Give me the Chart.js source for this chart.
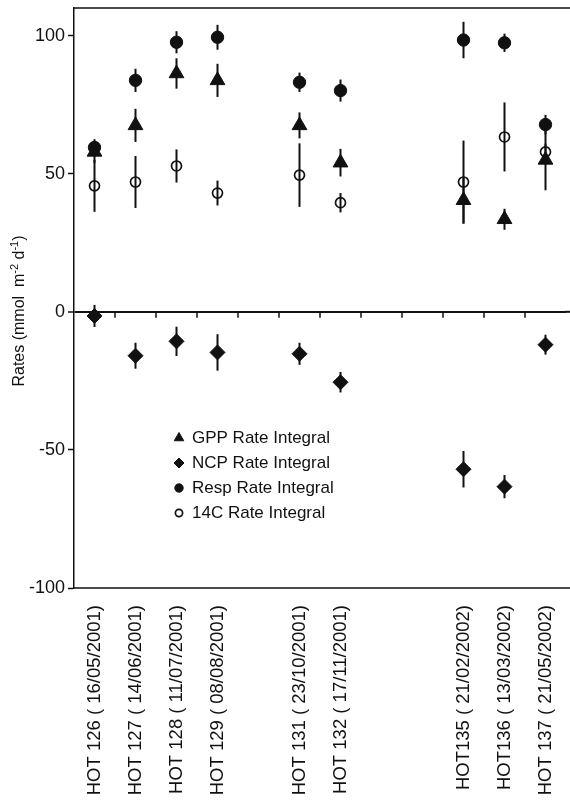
<!DOCTYPE html>
<html>
<head>
<meta charset="utf-8">
<script src="https://cdn.jsdelivr.net/npm/chart.js@4/dist/chart.umd.min.js"></script>
<style>
html,body{margin:0;padding:0;background:#fff;}
canvas{display:block;}
</style>
</head>
<body>
<canvas id="c" width="570" height="804"></canvas>
<script>
// ---- data ----
const categories = ['HOT 126 ( 16/05/2001)', 'HOT 127 ( 14/06/2001)', 'HOT 128 ( 11/07/2001)', 'HOT 129 ( 08/08/2001)', '',
  'HOT 131 ( 23/10/2001)', 'HOT 132 ( 17/11/2001)', '', '',
  'HOT135 ( 21/02/2002)', 'HOT136 ( 13/03/2002)', 'HOT 137 ( 21/05/2002)'];
const gpp     = [57.9, 67.5, 86.3, 83.8, null, 67.5, 54.0, null, null, 40.4, 33.5, 55.0];
const gppErr  = [4.0, 6.0, 5.5, 6.0, null, 4.7, 5.0, null, null, 8.5, 3.8, 11.0];
const ncp     = [-1.5, -15.9, -10.7, -14.7, null, -15.2, -25.5, null, null, -57.0, -63.3, -11.9];
const ncpErr  = [4.0, 4.7, 5.3, 6.6, null, 4.0, 3.7, null, null, 6.6, 4.2, 3.6];
const resp    = [59.5, 83.8, 97.6, 99.4, null, 83.1, 80.1, null, null, 98.4, 97.4, 67.8];
const respErr = [3.0, 4.2, 4.0, 4.5, null, 3.5, 4.0, null, null, 6.6, 3.3, 3.5];
const c14     = [45.6, 47.0, 52.8, 43.0, null, 49.5, 39.5, null, null, 47.0, 63.3, 57.9];
const c14Err  = [9.4, 9.4, 6.0, 4.5, null, 11.5, 3.5, null, null, 15.0, 12.5, 3.0];
const yTicks  = [-100, -50, 0, 50, 100];
const yMin = -100, yMax = 110;
const seriesNames = ['GPP Rate Integral', 'NCP Rate Integral', 'Resp Rate Integral', '14C Rate Integral'];

const FONT = '"Liberation Sans", Arial, Helvetica, sans-serif';
const INK = '#111';

// error bars drawn through the library's scales
const errorBars = {
  id: 'errorBars',
  beforeDatasetsDraw(chart) {
    const {ctx, scales: {x, y}} = chart;
    ctx.save();
    ctx.strokeStyle = INK;
    ctx.lineWidth = 2;
    chart.data.datasets.forEach((ds) => {
      if (!ds.errors) return;
      ds.data.forEach((v, i) => {
        const e = ds.errors[i];
        if (v == null || e == null) return;
        const px = x.getPixelForValue(i);
        ctx.beginPath();
        ctx.moveTo(px, y.getPixelForValue(v - e));
        ctx.lineTo(px, y.getPixelForValue(v + e));
        ctx.stroke();
      });
    });
    ctx.restore();
  }
};

// frame: top line, bottom line, zero-line ticks, y title, legend
const frame = {
  id: 'frame',
  afterDraw(chart) {
    const {ctx, chartArea: a, scales: {x, y}} = chart;
    const W = chart.width;
    ctx.save();
    ctx.strokeStyle = INK;
    ctx.lineWidth = 1.5;
    ctx.beginPath();
    ctx.moveTo(a.left - 0.75, a.top); ctx.lineTo(W, a.top);
    ctx.moveTo(a.left - 0.75, a.bottom); ctx.lineTo(W, a.bottom);
    ctx.stroke();
    // ticks on zero line between categories
    const y0 = y.getPixelForValue(0);
    ctx.lineWidth = 1.5;
    ctx.beginPath();
    for (let i = 0; i < categories.length - 1; i++) {
      const bx = (x.getPixelForValue(i) + x.getPixelForValue(i + 1)) / 2;
      ctx.moveTo(bx, y0); ctx.lineTo(bx, y0 + 6);
    }
    ctx.stroke();
    // zero line extend to right edge
    ctx.lineWidth = 2;
    ctx.beginPath();
    ctx.moveTo(a.right - 1, y0); ctx.lineTo(W, y0);
    ctx.stroke();

    // y axis title with superscripts
    ctx.fillStyle = INK;
    ctx.translate(24, 311);
    ctx.rotate(-Math.PI / 2);
    const parts = [
      ['Rates (mmol  m', 16, 0], ['-2', 11, -6], [' d', 16, 0], ['-1', 11, -6], [')', 16, 0]
    ];
    let total = 0;
    parts.forEach(p => { ctx.font = p[1] + 'px ' + FONT; total += ctx.measureText(p[0]).width; });
    let cx = -total / 2;
    ctx.textBaseline = 'alphabetic';
    ctx.textAlign = 'left';
    parts.forEach(p => {
      ctx.font = p[1] + 'px ' + FONT;
      ctx.fillText(p[0], cx, p[2]);
      cx += ctx.measureText(p[0]).width;
    });
    ctx.restore();

    // legend
    ctx.save();
    const lx = 179, ly0 = 438, dy = 25;
    const lrad = [5.5, 5, 4.2, 3.6];
    chart.data.datasets.forEach((ds, k) => {
      const ly = ly0 + k * dy;
      const opts = {
        pointStyle: ds.pointStyle, radius: lrad[k], rotation: 0,
        borderWidth: ds.pointBorderWidth
      };
      ctx.fillStyle = ds.pointBackgroundColor;
      ctx.strokeStyle = ds.pointBorderColor;
      ctx.lineWidth = ds.pointBorderWidth;
      Chart.helpers.drawPoint(ctx, opts, lx, ly);
      ctx.fillStyle = INK;
      ctx.font = '17px ' + FONT;
      ctx.textBaseline = 'middle';
      ctx.textAlign = 'left';
      ctx.fillText(ds.label, 192, ly + 0.5);
    });
    ctx.restore();
  }
};

const common = {showLine: false, pointHoverRadius: 0};

new Chart(document.getElementById('c'), {
  type: 'line',
  data: {
    labels: categories,
    datasets: [
      Object.assign({label: seriesNames[0], data: gpp, errors: gppErr, pointStyle: 'triangle', pointRadius: 8.5,
        pointBackgroundColor: INK, pointBorderColor: INK, pointBorderWidth: 1}, common),
      Object.assign({label: seriesNames[1], data: ncp, errors: ncpErr, pointStyle: 'rectRot', pointRadius: 7.5,
        pointBackgroundColor: INK, pointBorderColor: INK, pointBorderWidth: 1}, common),
      Object.assign({label: seriesNames[2], data: resp, errors: respErr, pointStyle: 'circle', pointRadius: 6.2,
        pointBackgroundColor: INK, pointBorderColor: INK, pointBorderWidth: 1}, common),
      Object.assign({label: seriesNames[3], data: c14, errors: c14Err, pointStyle: 'circle', pointRadius: 5,
        pointBackgroundColor: 'rgba(0,0,0,0)', pointBorderColor: INK, pointBorderWidth: 1.7}, common)
    ]
  },
  options: {
    responsive: false,
    animation: false,
    events: [],
    layout: {autoPadding: false, padding: {top: 8, right: 4, left: 0, bottom: 0}},
    plugins: {legend: {display: false}, tooltip: {enabled: false}, title: {display: false}},
    scales: {
      x: {
        type: 'category',
        offset: true,
        grid: {display: false, drawTicks: false, offset: true},
        border: {display: false},
        ticks: {
          autoSkip: false, minRotation: 90, maxRotation: 90, padding: 17,
          color: INK, font: {family: FONT, size: 18.5}
        },
        afterFit(s) { s.height = 216; s.paddingLeft = 0; s.paddingRight = 0; }
      },
      y: {
        min: yMin, max: yMax,
        afterBuildTicks(s) { s.ticks = yTicks.map(v => ({value: v})); },
        grid: {
          color: (c) => (c.tick && c.tick.value === 0) ? INK : 'rgba(0,0,0,0)',
          lineWidth: (c) => (c.tick && c.tick.value === 0) ? 2 : 1,
          tickColor: INK, tickLength: 6, tickWidth: 1.5, drawTicks: true
        },
        border: {display: true, color: INK, width: 1.5},
        ticks: {color: INK, font: {family: FONT, size: 18}, padding: 3},
        afterFit(s) { s.width = 74; s.paddingTop = 0; s.paddingBottom = 0; }
      }
    }
  },
  plugins: [errorBars, frame]
});
</script>
</body>
</html>
